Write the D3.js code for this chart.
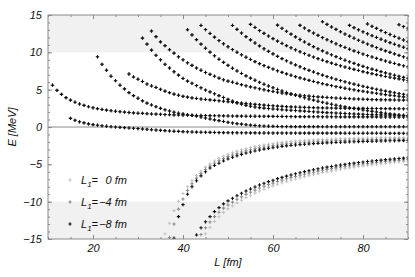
<!DOCTYPE html>
<html>
<head>
<meta charset="utf-8">
<script src="https://cdn.jsdelivr.net/npm/d3@7"></script>
<style>
  body { margin: 0; background: #fff; }
  text { font-family: "Liberation Sans", Arial, sans-serif; font-style: italic; fill: #111; }
</style>
</head>
<body>
<svg id="chart" width="415" height="277"></svg>
<script>
// L1 values of the three series (lightest to darkest)
var l1Values = [0, -4, -8];

// levels common to all three series: first L (fm), then E (MeV) at L, L+1, ... 90
var levelStarts = [11, 15, 21, 28, 31, 33, 41, 44, 51, 55, 61, 66, 71, 77, 81, 88];
var lvlA = [5.60,4.91,4.37,3.94,3.60,3.32,3.08,2.89,2.72,2.58,2.46,2.35,2.26,2.18,2.11,2.05,1.99,1.94,1.89,1.85,1.82,1.78,1.75,1.72,1.70,1.67,1.65,1.63,1.61,1.60,1.58,1.57,1.55,1.54,1.53,1.52,1.51,1.50,1.49,1.48,1.47,1.46,1.46,1.45,1.44,1.44,1.43,1.43,1.42,1.42,1.41,1.41,1.40,1.40,1.39,1.39,1.39,1.38,1.38,1.38,1.37,1.37,1.37,1.37,1.36,1.36,1.36,1.36,1.35,1.35,1.35,1.35,1.35,1.34,1.34,1.34,1.34,1.34,1.34,1.33];
var lvlB = [1.16,0.90,0.70,0.55,0.42,0.32,0.24,0.16,0.10,0.04,-0.01,-0.05,-0.09,-0.13,-0.17,-0.21,-0.26,-0.31,-0.36,-0.41,-0.45,-0.49,-0.53,-0.56,-0.59,-0.62,-0.64,-0.66,-0.68,-0.70,-0.71,-0.72,-0.73,-0.74,-0.75,-0.76,-0.77,-0.77,-0.78,-0.78,-0.79,-0.79,-0.80,-0.80,-0.80,-0.81,-0.81,-0.81,-0.81,-0.81,-0.81,-0.82,-0.82,-0.82,-0.82,-0.82,-0.82,-0.82,-0.82,-0.82,-0.82,-0.83,-0.83,-0.83,-0.83,-0.83,-0.83,-0.83,-0.83,-0.83,-0.83,-0.84,-0.84,-0.84,-0.84,-0.84];
var lvlC = [9.4,8.4,7.6,6.8,6.2,5.6,5.1,4.6,4.2,3.85,3.5,3.2,2.95,2.72,2.5,2.3,2.14,1.98,1.85,1.75,1.65,1.55,1.45,1.33,1.2,1.08,0.96,0.85,0.74,0.63,0.53,0.45,0.38,0.31,0.25,0.2,0.16,0.13,0.1,0.08,0.07,0.06,0.06,0.05,0.05,0.05,0.05,0.05,0.05,0.05,0.04,0.04,0.04,0.04,0.04,0.04,0.04,0.04,0.04,0.04,0.04,0.04,0.04,0.04,0.04,0.04,0.04,0.04,0.04,0.04];
var lvlD = [7.1,6.7,6.4,6.1,5.75,5.5,5.3,5.05,4.8,4.6,4.4,4.25,4.1,4.0,3.9,3.82,3.75,3.69,3.63,3.57,3.51,3.45,3.39,3.33,3.27,3.21,3.15,3.09,3.03,2.98,2.93,2.88,2.84,2.8,2.76,2.73,2.7,2.67,2.65,2.63,2.61,2.59,2.57,2.56,2.55,2.54,2.53,2.52,2.51,2.5,2.5,2.49,2.49,2.48,2.48,2.47,2.47,2.46,2.46,2.45,2.45,2.44,2.44];
var lvlE = [11.9,11.1,10.3,9.6,9.0,8.4,7.9,7.4,6.95,6.5,6.15,5.85,5.55,5.25,4.95,4.7,4.45,4.2,3.95,3.7,3.47,3.25,3.06,2.9,2.78,2.68,2.6,2.53,2.47,2.42,2.37,2.32,2.28,2.24,2.2,2.16,2.12,2.08,2.04,2.0,1.96,1.93,1.9,1.87,1.84,1.81,1.78,1.75,1.72,1.7,1.68,1.66,1.64,1.62,1.6,1.59,1.58,1.57,1.56,1.55];
var lvlF = [12.85,12.1,11.4,10.9,10.35,9.9,9.4,9.0,8.6,8.25,7.9,7.6,7.3,7.05,6.8,6.55,6.32,6.15,6.0,5.83,5.67,5.52,5.38,5.25,5.12,4.99,4.87,4.76,4.65,4.55,4.46,4.38,4.31,4.25,4.19,4.14,4.09,4.04,4.0,3.96,3.92,3.88,3.85,3.82,3.79,3.76,3.74,3.72,3.7,3.68,3.66,3.65,3.64,3.63,3.62,3.61,3.6,3.6];
var lvlG = [13.03,12.34,11.70,11.10,10.55,10.03,9.54,9.08,8.65,8.25,7.87,7.51,7.17,6.85,6.55,6.26,5.99,5.73,5.49,5.26,5.03,4.82,4.62,4.43,4.25,4.08,3.91,3.75,3.60,3.45,3.31,3.18,3.05,2.92,2.81,2.69,2.58,2.48,2.37,2.28,2.18,2.09,2.01,1.92,1.84,1.76,1.69,1.61,1.54,1.48];
var lvlH = [13.60,13.05,12.53,12.04,11.58,11.15,10.75,10.37,10.01,9.67,9.35,9.05,8.76,8.49,8.23,7.99,7.76,7.53,7.32,7.12,6.93,6.75,6.58,6.41,6.25,6.10,5.95,5.81,5.68,5.55,5.42,5.31,5.19,5.08,4.98,4.87,4.78,4.68,4.59,4.51,4.42,4.34,4.26,4.19,4.11,4.04,3.98];
var lvlI = [13.60,13.07,12.58,12.11,11.67,11.25,10.86,10.48,10.13,9.79,9.46,9.16,8.87,8.58,8.32,8.07,7.82,7.59,7.37,7.16,6.95,6.76,6.57,6.39,6.22,6.05,5.89,5.74,5.59,5.45,5.31,5.18,5.05,4.93,4.81,4.70,4.59,4.48,4.38,4.28];
var lvlJ = [13.75,13.33,12.92,12.54,12.18,11.83,11.50,11.19,10.90,10.61,10.34,10.08,9.84,9.60,9.37,9.16,8.95,8.75,8.56,8.38,8.20,8.03,7.87,7.72,7.57,7.42,7.28,7.15,7.02,6.89,6.77,6.66,6.55,6.44,6.33,6.23];
var lvlK = [13.64,13.22,12.82,12.44,12.07,11.72,11.39,11.07,10.76,10.47,10.19,9.92,9.67,9.42,9.18,8.95,8.73,8.52,8.32,8.12,7.93,7.75,7.58,7.41,7.25,7.09,6.94,6.79,6.65,6.51];
var lvlL = [13.61,13.25,12.91,12.58,12.27,11.98,11.69,11.42,11.15,10.90,10.65,10.42,10.20,9.98,9.77,9.57,9.38,9.19,9.01,8.84,8.67,8.51,8.35,8.20,8.06];
var lvlM = [14.10,13.74,13.40,13.07,12.76,12.45,12.17,11.89,11.61,11.36,11.11,10.87,10.64,10.41,10.20,9.99,9.79,9.59,9.40,9.23];
var lvlN = [13.61,13.31,13.02,12.75,12.49,12.23,11.99,11.75,11.52,11.30,11.09,10.88,10.68,10.50];
var lvlO = [13.80,13.49,13.21,12.92,12.65,12.39,12.13,11.89,11.65,11.43];
var lvlP = [13.70,13.45,13.22];

// the two deep levels, which differ between the series
var boundStarts = { 0: [36, 45], "-4": [37, 44], "-8": [38, 43] };
var b1L0 = [-14.3,-12.9,-11.2,-9.95,-8.9,-8.0,-7.2,-6.5,-5.9,-5.38,-4.93,-4.55,-4.22,-3.93,-3.67,-3.44,-3.24,-3.05,-2.89,-2.75,-2.62,-2.5,-2.39,-2.3,-2.22,-2.13,-2.06,-1.99,-1.94,-1.88,-1.84,-1.79,-1.76,-1.72,-1.69,-1.66,-1.64,-1.61,-1.59,-1.57,-1.55,-1.53,-1.52,-1.5,-1.49,-1.47,-1.47,-1.45,-1.45,-1.43,-1.43,-1.42,-1.42,-1.41,-1.41];
var b1L4 = [-14.8,-13.0,-11.0,-9.65,-8.5,-7.6,-6.85,-6.22,-5.69,-5.22,-4.85,-4.53,-4.24,-3.97,-3.75,-3.54,-3.35,-3.19,-3.05,-2.92,-2.79,-2.68,-2.58,-2.5,-2.41,-2.33,-2.26,-2.21,-2.15,-2.1,-2.05,-2.02,-1.98,-1.94,-1.91,-1.89,-1.86,-1.83,-1.81,-1.79,-1.77,-1.75,-1.73,-1.72,-1.7,-1.69,-1.67,-1.67,-1.65,-1.64,-1.63,-1.63,-1.62,-1.61];
var b1L8 = [-14.9,-12.0,-10.4,-9.0,-8.0,-7.2,-6.55,-6.0,-5.5,-5.15,-4.85,-4.55,-4.28,-4.06,-3.85,-3.66,-3.49,-3.35,-3.21,-3.08,-2.96,-2.86,-2.77,-2.68,-2.6,-2.53,-2.47,-2.41,-2.36,-2.31,-2.27,-2.23,-2.19,-2.16,-2.13,-2.1,-2.07,-2.05,-2.02,-2.0,-1.98,-1.96,-1.94,-1.92,-1.91,-1.89,-1.88,-1.86,-1.85,-1.84,-1.83,-1.82,-1.81];
var b2L0 = [-14.3,-13.45,-12.65,-12.02,-11.44,-10.97,-10.56,-10.16,-9.8,-9.46,-9.15,-8.86,-8.57,-8.33,-8.09,-7.89,-7.66,-7.47,-7.29,-7.12,-6.96,-6.8,-6.65,-6.51,-6.37,-6.22,-6.1,-5.98,-5.87,-5.76,-5.66,-5.56,-5.47,-5.38,-5.29,-5.21,-5.13,-5.06,-4.99,-4.92,-4.85,-4.79,-4.73,-4.68,-4.62,-4.57];
var b2L4 = [-14.4,-13.5,-12.73,-12.0,-11.41,-10.87,-10.44,-10.06,-9.68,-9.34,-9.02,-8.73,-8.45,-8.17,-7.94,-7.71,-7.52,-7.29,-7.11,-6.94,-6.77,-6.62,-6.46,-6.32,-6.18,-6.05,-5.91,-5.8,-5.68,-5.58,-5.47,-5.38,-5.28,-5.2,-5.11,-5.03,-4.95,-4.88,-4.81,-4.74,-4.68,-4.61,-4.56,-4.5,-4.45,-4.4,-4.35];
var b2L8 = [-14.46,-13.5,-12.7,-12.0,-11.33,-10.8,-10.3,-9.9,-9.55,-9.2,-8.88,-8.57,-8.3,-8.03,-7.76,-7.54,-7.32,-7.14,-6.92,-6.75,-6.58,-6.42,-6.27,-6.12,-5.98,-5.85,-5.72,-5.6,-5.49,-5.38,-5.28,-5.18,-5.09,-5.0,-4.92,-4.84,-4.76,-4.69,-4.62,-4.55,-4.49,-4.43,-4.37,-4.32,-4.27,-4.22,-4.17,-4.12];

var xTicks = [20, 40, 60, 80];
var yTicks = [-15, -10, -5, 0, 5, 10, 15];

var sharedLevels = [lvlA, lvlB, lvlC, lvlD, lvlE, lvlF, lvlG, lvlH, lvlI, lvlJ, lvlK, lvlL, lvlM, lvlN, lvlO, lvlP];
var boundLevels = { 0: [b1L0, b2L0], "-4": [b1L4, b2L4], "-8": [b1L8, b2L8] };
var colors = { 0: "#c4c4c4", "-4": "#8c8c8c", "-8": "#111" };

var margin = { top: 15, right: 7, bottom: 38, left: 48 },
    width = 415 - margin.left - margin.right,
    height = 277 - margin.top - margin.bottom;

var svg = d3.select("#chart");
var g = svg.append("g").attr("transform", "translate(" + margin.left + "," + margin.top + ")");

var x = d3.scaleLinear().domain([10, 90]).range([0, width]);
var y = d3.scaleLinear().domain([-15, 15]).range([height, 0]);

// shaded bands
[[10, 15], [-15, -10]].forEach(function(b) {
  g.append("rect").attr("x", 0).attr("width", width)
    .attr("y", y(b[1])).attr("height", y(b[0]) - y(b[1]))
    .attr("fill", "#f1f1f1");
});

g.append("line").attr("x1", 0).attr("x2", width).attr("y1", y(0)).attr("y2", y(0))
  .attr("stroke", "#8a8a8a").attr("stroke-width", 1);

g.append("clipPath").attr("id", "clip").append("rect").attr("width", width).attr("height", height);

function toPoints(arr, start) {
  return arr.map(function(e, i) { return { L: start + i, E: e }; });
}

var marker = d3.symbol().type(d3.symbolCross).size(6);
var dots = g.append("g").attr("clip-path", "url(#clip)");

l1Values.forEach(function(v) {
  var pts = [];
  sharedLevels.forEach(function(arr, i) { pts = pts.concat(toPoints(arr, levelStarts[i])); });
  boundLevels[v].forEach(function(arr, i) { pts = pts.concat(toPoints(arr, boundStarts[v][i])); });
  dots.append("g").selectAll("path").data(pts).enter().append("path")
    .attr("d", marker)
    .attr("transform", function(d) { return "translate(" + x(d.L) + "," + y(d.E) + ")"; })
    .attr("fill", colors[v]);
});

// axes, ticks pointing inward on all four sides
function styleAxis(sel) {
  sel.select(".domain").remove();
  sel.selectAll("line").attr("stroke", "#8a8a8a");
  sel.selectAll("text").style("font-size", "11px").attr("fill", "#111");
}
var yMinor = d3.range(-15, 16, 1), xMinor = d3.range(10, 91, 5);

g.append("g").call(d3.axisLeft(y).tickValues(yMinor).tickSize(-2).tickFormat("")).call(styleAxis);
g.append("g").call(d3.axisLeft(y).tickValues(yTicks).tickSize(-4).tickPadding(6)).call(styleAxis);
g.append("g").attr("transform", "translate(" + width + ",0)")
  .call(d3.axisRight(y).tickValues(yMinor).tickSize(-2).tickFormat("")).call(styleAxis);
g.append("g").attr("transform", "translate(" + width + ",0)")
  .call(d3.axisRight(y).tickValues(yTicks).tickSize(-4).tickFormat("")).call(styleAxis);
g.append("g").attr("transform", "translate(0," + height + ")")
  .call(d3.axisBottom(x).tickValues(xMinor).tickSize(-2).tickFormat("")).call(styleAxis);
g.append("g").attr("transform", "translate(0," + height + ")")
  .call(d3.axisBottom(x).tickValues(xTicks).tickSize(-4).tickPadding(5)).call(styleAxis);
g.append("g").call(d3.axisTop(x).tickValues(xMinor).tickSize(-2).tickFormat("")).call(styleAxis);
g.append("g").call(d3.axisTop(x).tickValues(xTicks).tickSize(-4).tickFormat("")).call(styleAxis);

g.append("rect").attr("width", width).attr("height", height)
  .attr("fill", "none").attr("stroke", "#8a8a8a").attr("stroke-width", 1);

// axis titles
svg.append("text").attr("transform", "translate(16," + (margin.top + y(0)) + ") rotate(-90)")
  .attr("text-anchor", "middle").style("font-size", "11px").text("E [MeV]");
svg.append("text").attr("x", 228).attr("y", 266)
  .attr("text-anchor", "middle").style("font-size", "11px").text("L [fm]");

// legend
var legend = svg.append("g").attr("transform", "translate(70,180)");
l1Values.forEach(function(v, i) {
  var row = legend.append("g").attr("transform", "translate(0," + (i * 22) + ")");
  row.append("path").attr("d", marker).attr("fill", colors[v]);
  var t = row.append("text").attr("x", 11).attr("y", 4).style("font-size", "11px");
  t.append("tspan").text("L");
  t.append("tspan").attr("dy", 3).style("font-size", "8px").text("1");
  t.append("tspan").attr("dy", -3).text("=");
  row.append("text").attr("x", 57).attr("y", 4).attr("text-anchor", "end")
    .style("font-size", "11px").text((v < 0 ? "\u2212" + (-v) : v) + " fm");
});
</script>
</body>
</html>
